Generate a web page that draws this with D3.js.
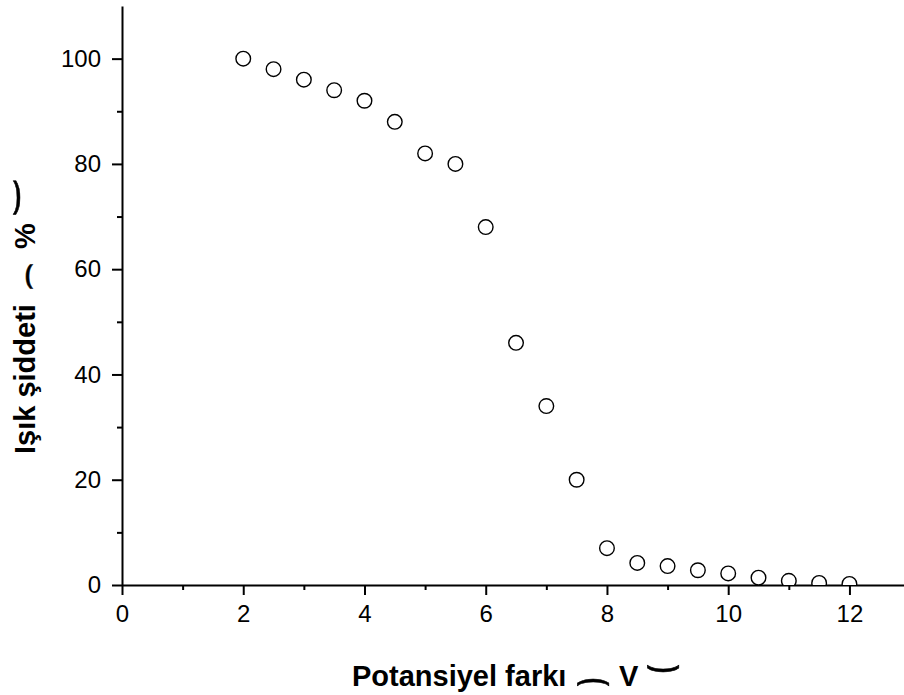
<!DOCTYPE html>
<html>
<head>
<meta charset="utf-8">
<script src="https://cdn.jsdelivr.net/npm/d3@7"></script>
<style>
  body { margin: 0; background: #fff; }
  svg { display: block; font-family: "Liberation Sans", Arial, sans-serif; }
</style>
</head>
<body>
<svg class="chart"></svg>
<script>
// data
var voltage = [2, 2.5, 3, 3.5, 4, 4.5, 5, 5.5, 6, 6.5, 7, 7.5, 8, 8.5, 9, 9.5, 10, 10.5, 11, 11.5, 12];
var intensity = [100, 98, 96, 94, 92, 88, 82, 80, 68, 46, 34, 20, 7, 4.2, 3.6, 2.8, 2.2, 1.4, 0.8, 0.4, 0.2];
var xTicks = [0, 2, 4, 6, 8, 10, 12];
var yTicks = [0, 20, 40, 60, 80, 100];

var width = 904, height = 695;
var margin = {top: 6, right: 0, bottom: 110, left: 122};

var svg = d3.select(".chart")
    .attr("width", width)
    .attr("height", height);

var x = d3.scaleLinear()
    .domain([0, 12.9])
    .range([margin.left, width - margin.right]);

var y = d3.scaleLinear()
    .domain([0, 110])
    .range([height - margin.bottom, margin.top]);

svg.append("clipPath")
    .attr("id", "plot-clip")
  .append("rect")
    .attr("x", margin.left)
    .attr("y", 0)
    .attr("width", width - margin.left)
    .attr("height", y(0));

// minor ticks first, then the major axis on top
var xMinor = d3.axisBottom(x).tickValues(d3.range(1, 13, 2)).tickSize(5).tickFormat("");
var yMinor = d3.axisLeft(y).tickValues(d3.range(10, 110, 20)).tickSize(5).tickFormat("");

svg.append("g")
    .attr("class", "x minor")
    .attr("transform", "translate(0," + y(0) + ")")
    .call(xMinor);

svg.append("g")
    .attr("class", "y minor")
    .attr("transform", "translate(" + x(0) + ",0)")
    .call(yMinor);

svg.append("g")
    .attr("class", "x axis")
    .attr("transform", "translate(0," + y(0) + ")")
    .call(d3.axisBottom(x).tickValues(xTicks).tickSize(10).tickPadding(10).tickSizeOuter(0));

svg.append("g")
    .attr("class", "y axis")
    .attr("transform", "translate(" + x(0) + ",0)")
    .call(d3.axisLeft(y).tickValues(yTicks).tickSize(10).tickPadding(11).tickSizeOuter(0));

svg.selectAll(".axis text")
    .style("font-size", "24px")
    .style("font-family", "Liberation Sans, Arial, sans-serif")
    .attr("fill", "#000");

svg.selectAll(".axis path, .axis line, .minor line")
    .attr("stroke", "#000")
    .attr("stroke-width", 2);

svg.selectAll(".minor path").remove();

// points
svg.append("g")
    .attr("clip-path", "url(#plot-clip)")
  .selectAll("circle")
    .data(voltage)
    .enter().append("circle")
    .attr("cx", function(d) { return x(d); })
    .attr("cy", function(d, i) { return y(intensity[i]); })
    .attr("r", 7.3)
    .attr("fill", "#fff")
    .attr("stroke", "#000")
    .attr("stroke-width", 1.4);

// axis titles (the brackets came out as arcs in the original)
function word(g, s, px, py) {
  return g.append("text")
      .attr("x", px)
      .attr("y", py)
      .style("font-size", "29px")
      .style("font-weight", "bold")
      .text(s);
}
function arc(g, ch, cx, py, sx) {
  return g.append("text")
      .attr("transform", "translate(" + cx + "," + py + ") scale(" + sx + ",1.05)")
      .attr("text-anchor", "middle")
      .style("font-size", "40px")
      .attr("stroke", "#000")
      .attr("stroke-width", 0.45)
      .text(ch);
}

var xlab = svg.append("g").attr("class", "x title");
word(xlab, "Potansiyel farkı", 352, 686);
arc(xlab, "⌢", 593.5, 692, 1.45);
word(xlab, "V", 619, 686);
arc(xlab, "⌣", 663.5, 679, 1.45);

var ylab = svg.append("g")
    .attr("class", "y title")
    .attr("transform", "translate(35,0) rotate(-90)");
word(ylab, "Işık şiddeti", -454, 0);
arc(ylab, "⌢", -277, 4, 1.1);
word(ylab, "%", -249, 0);
arc(ylab, "⌣", -197.5, -8, 1.55);
</script>
</body>
</html>
